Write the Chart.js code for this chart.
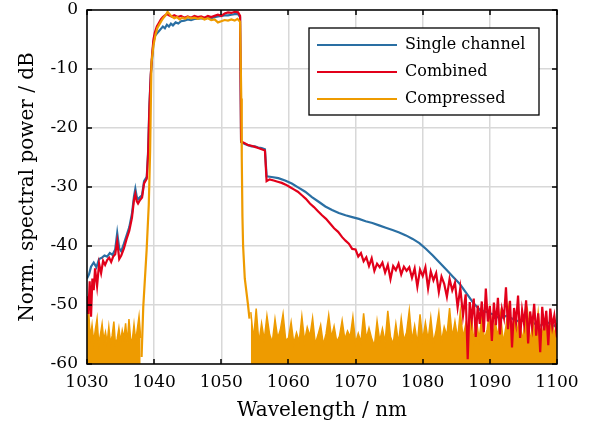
<!DOCTYPE html>
<html>
<head>
<meta charset="utf-8">
<script src="https://cdn.jsdelivr.net/npm/chart.js@4.4.0/dist/chart.umd.min.js"></script>
<style>
  html, body { margin: 0; padding: 0; background: #fff; }
  #wrap { width: 590px; height: 432px; }
</style>
</head>
<body>
<div id="wrap"><canvas id="spectrum"></canvas></div>
<script>
// Series names + axis ticks
const seriesNames = ['Single channel', 'Combined', 'Compressed'];
const seriesColors = ['#2a6fa3', '#e2001a', '#ee9b00'];
const xTicks = [1030, 1040, 1050, 1060, 1070, 1080, 1090, 1100];
const yTicks = [-60, -50, -40, -30, -20, -10, 0];

// Single channel
const singleX = [1030.0, 1030.3, 1030.6, 1031.0, 1031.4, 1031.8, 1032.2, 1032.6, 1033.0, 1033.4,
  1033.8, 1034.2, 1034.5, 1034.8, 1035.1, 1035.5, 1035.9, 1036.3, 1036.7, 1037.0,
  1037.2, 1037.4, 1037.6, 1037.9, 1038.2, 1038.5, 1038.9, 1039.1, 1039.3, 1039.5,
  1039.7, 1039.9, 1040.1, 1040.4, 1040.7, 1041.0, 1041.3, 1041.6, 1041.9, 1042.2,
  1042.5, 1042.8, 1043.2, 1043.6, 1044.0, 1044.5, 1045.0, 1045.5, 1046.0, 1046.5,
  1047.0, 1047.5, 1048.0, 1048.5, 1049.0, 1049.5, 1050.0, 1050.5, 1051.0, 1051.5,
  1052.0, 1052.5, 1052.8, 1052.95, 1053.5, 1054.0, 1054.5, 1055.0, 1055.5, 1056.0,
  1056.5, 1056.75, 1057.5, 1058.5, 1059.5, 1060.5, 1061.5, 1062.5, 1063.5, 1064.5,
  1065.5, 1066.5, 1067.5, 1068.5, 1069.5, 1070.5, 1071.5, 1072.5, 1073.5, 1074.5,
  1075.5, 1076.5, 1077.5, 1078.5, 1079.5, 1080.5, 1081.5, 1082.5, 1083.5, 1084.5,
  1085.5, 1086.5, 1087.5, 1088.5, 1089.5, 1090.5, 1091.5, 1092.5, 1093.5, 1094.5,
  1095.5, 1096.5, 1097.5, 1098.5, 1099.5, 1100.0];
const singleDb = [-45.5, -44.8, -43.5, -42.8, -43.6, -42.2, -42.0, -41.6, -41.8, -41.2,
  -41.5, -40.6, -37.8, -40.4, -40.9, -39.6, -38.2, -36.8, -34.5, -31.6,
  -30.3, -31.6, -32.1, -31.7, -31.4, -29.0, -28.3, -24.0, -16.0, -11.0,
  -8.0, -5.5, -4.4, -4.0, -3.6, -3.2, -2.8, -3.1, -2.5, -2.8,
  -2.3, -2.6, -2.1, -2.3, -1.9, -1.8, -1.6, -1.7, -1.5, -1.5,
  -1.4, -1.5, -1.3, -1.4, -1.2, -1.1, -1.0, -0.9, -0.9, -0.8,
  -0.7, -0.7, -1.2, -22.4, -22.7, -22.9, -23.1, -23.1, -23.3, -23.4,
  -23.6, -28.2, -28.3, -28.5, -28.9, -29.4, -30.1, -30.8, -31.7, -32.5,
  -33.3, -33.9, -34.4, -34.8, -35.1, -35.4, -35.8, -36.1, -36.5, -36.9,
  -37.3, -37.7, -38.2, -38.8, -39.5, -40.5, -41.6, -42.8, -44.0, -45.2,
  -46.4, -48.0, -49.6, -50.8, -51.2, -51.6, -52.3, -51.8, -52.4, -52.9,
  -52.2, -53.1, -53.5, -52.9, -53.6, -53.2];

// Combined
const combinedX = [1030.0, 1030.2, 1030.4, 1030.6, 1030.8, 1031.0, 1031.2, 1031.5, 1031.8, 1032.1,
  1032.4, 1032.7, 1033.0, 1033.3, 1033.6, 1033.9, 1034.2, 1034.5, 1034.8, 1035.1,
  1035.5, 1035.9, 1036.3, 1036.7, 1037.0, 1037.2, 1037.4, 1037.6, 1037.9, 1038.2,
  1038.5, 1038.9, 1039.1, 1039.3, 1039.5, 1039.7, 1039.9, 1040.1, 1040.4, 1040.7,
  1041.0, 1041.3, 1041.6, 1041.9, 1042.2, 1042.6, 1043.0, 1043.5, 1044.0, 1044.5,
  1045.0, 1045.5, 1046.0, 1046.5, 1047.0, 1047.5, 1048.0, 1048.5, 1049.0, 1049.5,
  1050.0, 1050.5, 1051.0, 1051.5, 1052.0, 1052.5, 1052.8, 1052.95, 1053.5, 1054.0,
  1054.5, 1055.0, 1055.5, 1056.0, 1056.5, 1056.75, 1057.2, 1057.8, 1058.4, 1059.0,
  1059.6, 1060.2, 1060.8, 1061.4, 1062.0, 1062.6, 1063.2, 1063.8, 1064.4, 1065.0,
  1065.6, 1066.2, 1066.8, 1067.4, 1068.0, 1068.5, 1069.0, 1069.5, 1070.0, 1070.4,
  1070.8, 1071.2, 1071.6, 1072.0, 1072.4, 1072.8, 1073.2, 1073.6, 1074.0, 1074.4,
  1074.8, 1075.2, 1075.6, 1076.0, 1076.4, 1076.8, 1077.2, 1077.6, 1078.0, 1078.4,
  1078.8, 1079.2, 1079.6, 1080.0, 1080.4, 1080.8, 1081.2, 1081.6, 1082.0, 1082.4,
  1082.8, 1083.2, 1083.6, 1084.0, 1084.4, 1084.8, 1085.2, 1085.6, 1086.0, 1086.4,
  1086.7, 1087.0, 1087.3, 1087.6, 1087.9, 1088.2, 1088.5, 1088.8, 1089.1, 1089.4,
  1089.7, 1090.0, 1090.3, 1090.6, 1090.9, 1091.2, 1091.5, 1091.8, 1092.1, 1092.4,
  1092.7, 1093.0, 1093.3, 1093.6, 1093.9, 1094.2, 1094.5, 1094.8, 1095.1, 1095.4,
  1095.7, 1096.0, 1096.3, 1096.6, 1096.9, 1097.2, 1097.5, 1097.8, 1098.1, 1098.4,
  1098.7, 1099.0, 1099.3, 1099.6, 1100.0];
const combinedDb = [-48.5, -51.5, -46.0, -52.0, -45.5, -47.5, -43.8, -46.8, -43.0, -44.6,
  -42.5, -43.2, -42.4, -42.0, -42.7, -41.8, -41.4, -39.2, -42.2, -41.6,
  -40.4, -38.8, -37.4, -35.2, -32.2, -31.2, -32.4, -32.8, -32.2, -31.8,
  -29.4, -28.6, -24.5, -16.5, -11.0, -7.5, -5.0, -3.8, -2.8, -2.2,
  -1.6, -1.2, -0.9, -0.7, -0.9, -1.1, -0.9, -1.2, -1.0, -1.3,
  -1.1, -1.3, -1.0, -1.2, -1.1, -1.3, -1.0, -1.2, -1.0, -0.8,
  -1.0, -0.6, -0.4, -0.5, -0.3, -0.4, -1.0, -22.3, -22.6, -22.9,
  -23.0, -23.2, -23.4, -23.6, -23.8, -29.0, -28.7, -28.9, -29.1, -29.3,
  -29.6, -30.0, -30.4, -30.8, -31.4, -32.0, -32.8, -33.4, -34.1, -34.8,
  -35.4, -36.2, -37.0, -37.6, -38.5, -39.1, -39.6, -40.5, -40.6, -41.8,
  -41.2, -42.6, -41.9, -43.4, -42.1, -44.2, -43.0, -43.6, -42.8, -44.5,
  -43.2, -45.6, -43.4, -44.1, -43.0, -44.8, -43.5, -44.2, -43.6, -45.4,
  -43.8, -46.9, -44.0, -45.1, -43.6, -47.2, -44.3, -45.8, -44.6, -47.8,
  -45.2, -46.4, -48.6, -45.6, -47.5, -46.2, -50.4, -47.1, -51.8, -48.2,
  -59.2, -49.5, -52.6, -48.9, -55.4, -50.1, -53.2, -49.4, -54.6, -47.2,
  -52.8, -50.2, -56.1, -49.6, -53.4, -48.8, -55.0, -50.7, -52.2, -47.0,
  -54.1, -49.3, -57.2, -50.5, -53.0, -48.4, -55.6, -50.9, -53.3, -49.2,
  -56.5, -51.1, -53.8, -49.8, -55.2, -51.4, -58.0, -50.3, -54.3, -51.0,
  -56.8, -50.6, -53.7, -51.8, -55.5];

// Compressed - main pulse
const compressedX = [1038.13, 1038.38, 1038.88, 1039.2, 1039.4, 1039.6, 1039.9, 1040.2, 1040.5, 1040.8,
  1041.1, 1041.4, 1041.7, 1042.0, 1042.3, 1042.6, 1043.0, 1043.4, 1043.8, 1044.2,
  1044.6, 1045.0, 1045.5, 1046.0, 1046.5, 1047.0, 1047.5, 1048.0, 1048.5, 1049.0,
  1049.5, 1050.0, 1050.5, 1051.0, 1051.5, 1052.0, 1052.4, 1052.8, 1052.98, 1053.05,
  1053.15, 1053.25, 1053.5, 1053.95, 1054.2];
const compressedDb = [-58.8, -50.3, -40.7, -33.0, -24.0, -9.0, -6.0, -4.2, -3.0, -2.4,
  -1.8, -1.3, -0.9, -0.3, -0.7, -1.1, -1.4, -1.2, -1.6, -1.3,
  -1.5, -1.2, -1.4, -1.3, -1.5, -1.3, -1.6, -1.4, -1.7, -1.6,
  -2.1, -1.9, -1.7, -1.8, -1.6, -1.8, -1.5, -2.0, -15.0, -25.0,
  -35.0, -40.0, -45.5, -49.7, -52.3];

// Compressed - noise floor left of the pulse
const floorLeftX = [1030.0, 1030.25, 1030.5, 1030.75, 1031.0, 1031.25, 1031.5, 1031.75, 1032.0, 1032.25,
  1032.5, 1032.75, 1033.0, 1033.25, 1033.5, 1033.75, 1034.0, 1034.25, 1034.5, 1034.75,
  1035.0, 1035.25, 1035.5, 1035.75, 1036.0, 1036.25, 1036.5, 1036.75, 1037.0, 1037.25,
  1037.5, 1037.75, 1038.0];
const floorLeftDb = [-52.5, -51.2, -55.5, -53.4, -56.3, -54.1, -52.3, -56.6, -55.0, -53.2,
  -56.0, -54.6, -56.4, -53.7, -56.5, -55.2, -52.8, -56.8, -55.7, -53.9,
  -56.2, -54.3, -55.6, -53.1, -56.4, -52.4, -55.8, -55.9, -53.3, -56.1,
  -54.0, -51.9, -55.6];

// Compressed - noise floor right of the pulse
const floorRightX = [1054.4, 1054.8, 1055.2, 1055.6, 1056.0, 1056.4, 1056.8, 1057.2, 1057.6, 1058.0,
  1058.4, 1058.8, 1059.2, 1059.6, 1060.0, 1060.4, 1060.8, 1061.2, 1061.6, 1062.0,
  1062.4, 1062.8, 1063.2, 1063.6, 1064.0, 1064.4, 1064.8, 1065.2, 1065.6, 1066.0,
  1066.4, 1066.8, 1067.2, 1067.6, 1068.0, 1068.4, 1068.8, 1069.2, 1069.6, 1070.0,
  1070.4, 1070.8, 1071.2, 1071.6, 1072.0, 1072.4, 1072.8, 1073.2, 1073.6, 1074.0,
  1074.4, 1074.8, 1075.2, 1075.6, 1076.0, 1076.4, 1076.8, 1077.2, 1077.6, 1078.0,
  1078.4, 1078.8, 1079.2, 1079.6, 1080.0, 1080.4, 1080.8, 1081.2, 1081.6, 1082.0,
  1082.4, 1082.8, 1083.2, 1083.6, 1084.0, 1084.4, 1084.8, 1085.2, 1085.6, 1086.0,
  1086.4, 1086.8, 1087.2, 1087.6, 1088.0, 1088.4, 1088.8, 1089.2, 1089.6, 1090.0,
  1090.4, 1090.8, 1091.2, 1091.6, 1092.0, 1092.4, 1092.8, 1093.2, 1093.6, 1094.0,
  1094.4, 1094.8, 1095.2, 1095.6, 1096.0, 1096.4, 1096.8, 1097.2, 1097.6, 1098.0,
  1098.4, 1098.8, 1099.2, 1099.6, 1100.0];
const floorRightDb = [-51.2, -55.8, -50.6, -56.4, -53.1, -55.9, -51.8, -55.0, -56.3, -52.4,
  -55.6, -54.2, -51.5, -56.0, -55.6, -52.9, -56.5, -54.7, -56.2, -51.9,
  -56.1, -53.8, -55.3, -52.2, -56.6, -55.1, -53.4, -56.7, -54.9, -51.7,
  -55.5, -53.6, -56.2, -55.3, -52.6, -55.8, -54.4, -55.4, -52.0, -56.4,
  -54.8, -56.3, -51.4, -55.7, -53.9, -55.7, -56.9, -52.7, -56.1, -54.0,
  -56.3, -51.0, -55.4, -56.6, -53.2, -56.5, -52.3, -56.0, -54.6, -50.9,
  -56.0, -53.5, -56.5, -51.6, -55.9, -53.0, -55.9, -52.1, -56.4, -54.3,
  -51.3, -56.2, -53.7, -55.2, -50.5, -55.5, -52.8, -55.7, -51.1, -55.5,
  -53.3, -56.1, -50.8, -56.2, -52.5, -55.8, -51.9, -55.8, -54.1, -50.7,
  -55.3, -52.9, -55.3, -51.5, -56.4, -53.6, -50.4, -56.0, -52.2, -55.1,
  -51.8, -56.0, -53.4, -50.9, -56.4, -52.6, -55.7, -51.2, -55.7, -53.8,
  -51.6, -56.3, -52.4, -55.0, -53.1];

const toPoints = (xs, ys) => xs.map((x, i) => ({ x: x, y: ys[i] }));

const serifFont = "'DejaVu Serif', 'Liberation Serif', serif";
const gridColor = '#d8d8d8';

// frame, inward ticks and boxed legend (MATLAB look)
const framePlugin = {
  id: 'frame',
  afterDatasetsDraw(chart) {
    const { ctx, chartArea: a, scales } = chart;
    const tl = 5;
    ctx.save();
    ctx.strokeStyle = '#000';
    ctx.lineWidth = 1.5;
    ctx.beginPath();
    xTicks.forEach(v => {
      const px = Math.round(scales.x.getPixelForValue(v));
      ctx.moveTo(px, a.bottom); ctx.lineTo(px, a.bottom - tl);
      ctx.moveTo(px, a.top); ctx.lineTo(px, a.top + tl);
    });
    yTicks.forEach(v => {
      const py = Math.round(scales.y.getPixelForValue(v));
      ctx.moveTo(a.left, py); ctx.lineTo(a.left + tl, py);
      ctx.moveTo(a.right, py); ctx.lineTo(a.right - tl, py);
    });
    ctx.stroke();
    ctx.strokeRect(a.left, a.top, a.right - a.left, a.bottom - a.top);

    // legend
    const bx = a.right - 248, by = a.top + 18, bw = 230, bh = 87;
    ctx.fillStyle = '#fff';
    ctx.fillRect(bx, by, bw, bh);
    ctx.lineWidth = 1.3;
    ctx.strokeRect(bx, by, bw, bh);
    ctx.font = '16px ' + serifFont;
    ctx.textBaseline = 'middle';
    seriesNames.forEach((name, i) => {
      const ry = by + 17 + i * 27;
      ctx.strokeStyle = seriesColors[i];
      ctx.lineWidth = 2.2;
      ctx.beginPath();
      ctx.moveTo(bx + 8, ry);
      ctx.lineTo(bx + 88, ry);
      ctx.stroke();
      ctx.fillStyle = '#000';
      ctx.fillText(name, bx + 96, ry);
    });
    ctx.restore();
  }
};

const lineStyle = { pointRadius: 0, tension: 0, borderWidth: 2.2, fill: false };

const ctx = document.getElementById('spectrum').getContext('2d');
const spectrumChart = new Chart(ctx, {
  type: 'line',
  data: {
    datasets: [
      Object.assign({ label: seriesNames[0], data: toPoints(singleX, singleDb),
        borderColor: seriesColors[0], order: 3 }, lineStyle),
      Object.assign({ label: seriesNames[1], data: toPoints(combinedX, combinedDb),
        borderColor: seriesColors[1], order: 1 }, lineStyle),
      Object.assign({ label: seriesNames[2], data: toPoints(compressedX, compressedDb),
        borderColor: seriesColors[2], order: 0 }, lineStyle),
      { label: '', data: toPoints(floorLeftX, floorLeftDb), borderColor: seriesColors[2],
        backgroundColor: seriesColors[2], fill: 'start', pointRadius: 0, borderWidth: 1.5, order: 2 },
      { label: '', data: toPoints(floorRightX, floorRightDb), borderColor: seriesColors[2],
        backgroundColor: seriesColors[2], fill: 'start', pointRadius: 0, borderWidth: 1.5, order: 2 }
    ]
  },
  options: {
    responsive: true,
    maintainAspectRatio: false,
    animation: false,
    devicePixelRatio: 1,
    layout: { padding: { left: 0, right: 33, top: 10, bottom: 0 } },
    plugins: {
      legend: { display: false },
      tooltip: { enabled: false }
    },
    scales: {
      x: {
        type: 'linear',
        min: 1030,
        max: 1100,
        afterFit: (scale) => { scale.height = 68; scale.paddingLeft = 0; scale.paddingRight = 0; },
        afterBuildTicks: (scale) => { scale.ticks = xTicks.map(v => ({ value: v })); },
        ticks: { color: '#000', padding: 8, font: { family: serifFont, size: 17 },
          callback: (v) => String(v) },
        grid: { color: gridColor, lineWidth: 1.5, drawTicks: false },
        border: { display: false },
        title: { display: true, text: 'Wavelength / nm', color: '#000',
          font: { family: serifFont, size: 20 }, padding: { top: 0, bottom: 9 } }
      },
      y: {
        min: -60,
        max: 0,
        afterFit: (scale) => { scale.width = 87; scale.paddingTop = 0; scale.paddingBottom = 0; },
        afterBuildTicks: (scale) => { scale.ticks = yTicks.map(v => ({ value: v })); },
        ticks: { color: '#000', padding: 9, font: { family: serifFont, size: 17 },
          callback: (v) => String(v) },
        grid: { color: gridColor, lineWidth: 1.5, drawTicks: false },
        border: { display: false },
        title: { display: true, text: 'Norm. spectral power / dB', color: '#000',
          font: { family: serifFont, size: 20 }, padding: { top: 16, bottom: 0 } }
      }
    }
  },
  plugins: [framePlugin]
});
</script>
</body>
</html>
